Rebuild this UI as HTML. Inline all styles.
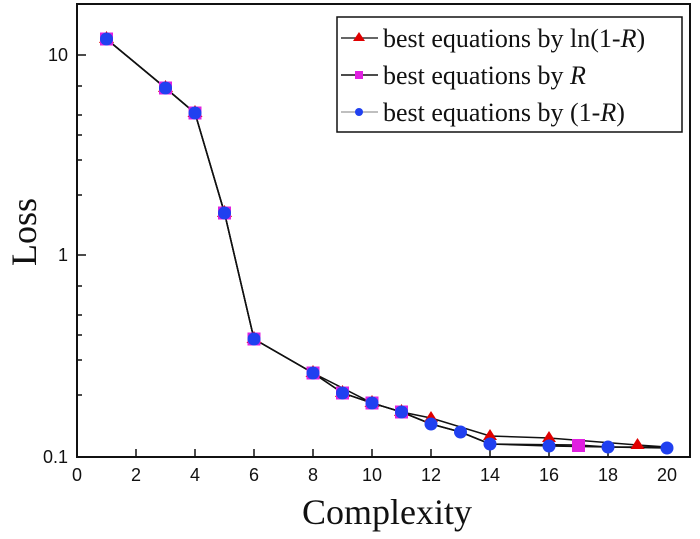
<!DOCTYPE html>
<html><head><style>body{margin:0;background:#fff}svg{display:block}</style></head><body>
<svg width="700" height="539" xmlns="http://www.w3.org/2000/svg">
<defs>
<g id="m"><path d="M0,-8 l7.5,12 h-15z" fill="#e00000"/><rect x="-6.5" y="-6.5" width="13" height="13" fill="#e020e0"/><circle r="6.5" fill="#2040f0"/></g>
</defs>
<rect x="77" y="4" width="613" height="453" fill="none" stroke="#111" stroke-width="2"/>
<g stroke="#111" stroke-width="1.5">
<line x1="136" y1="457" x2="136" y2="449"/><line x1="195" y1="457" x2="195" y2="449"/><line x1="254" y1="457" x2="254" y2="449"/><line x1="313" y1="457" x2="313" y2="449"/><line x1="372" y1="457" x2="372" y2="449"/><line x1="431" y1="457" x2="431" y2="449"/><line x1="490" y1="457" x2="490" y2="449"/><line x1="549" y1="457" x2="549" y2="449"/><line x1="608" y1="457" x2="608" y2="449"/>
<line x1="77" y1="55" x2="86" y2="55"/><line x1="77" y1="255" x2="86" y2="255"/>
<line x1="77" y1="195" x2="82" y2="195"/><line x1="77" y1="160" x2="82" y2="160"/><line x1="77" y1="135" x2="82" y2="135"/><line x1="77" y1="115" x2="82" y2="115"/><line x1="77" y1="86" x2="82" y2="86"/>
<line x1="77" y1="395" x2="82" y2="395"/><line x1="77" y1="360" x2="82" y2="360"/><line x1="77" y1="335" x2="82" y2="335"/><line x1="77" y1="315" x2="82" y2="315"/><line x1="77" y1="286" x2="82" y2="286"/>
</g>
<g font-family="Liberation Sans, sans-serif" font-size="18" fill="#111" text-anchor="middle">
<text x="77" y="481">0</text><text x="136" y="481">2</text><text x="195" y="481">4</text><text x="254" y="481">6</text><text x="313" y="481">8</text><text x="372" y="481">10</text><text x="431" y="481">12</text><text x="490" y="481">14</text><text x="549" y="481">16</text><text x="608" y="481">18</text><text x="667" y="481">20</text>
<text x="68" y="61" text-anchor="end">10</text><text x="68" y="261" text-anchor="end">1</text><text x="68" y="463" text-anchor="end">0.1</text>
</g>
<text x="387" y="524" font-family="Liberation Serif, serif" font-size="36" text-anchor="middle" fill="#111">Complexity</text>
<text transform="translate(36,232) rotate(-90)" font-family="Liberation Serif, serif" font-size="36" text-anchor="middle" fill="#111">Loss</text>
<g fill="none" stroke="#111" stroke-width="1.5">
<polyline points="106.5,39 165.5,88 195,113 224.5,213 254,339 313,373 372,403 401.5,412 431,418 490,436 549,438 637.5,445 667,447"/>
<polyline points="106.5,39 165.5,88 195,113 224.5,213 254,339 313,373 342.5,393 372,403 401.5,412 431,424 460.5,432 490,444 578.5,445 608,447 667,447"/>
<polyline points="106.5,39 165.5,88 195,113 224.5,213 254,339 313,373 342.5,393 372,403 401.5,412 431,424 460.5,432 490,444 549,446 608,447 667,448"/>
</g>
<g fill="#e00000">
<path d="M490,429 l7,11 h-14z"/><path d="M549,431 l7,11 h-14z"/><path d="M637.5,438 l7,11 h-14z"/><path d="M431,411 l7,11 h-14z"/>
</g>
<g fill="#e020e0">
<rect x="572" y="439" width="13" height="13"/>
</g>
<use href="#m" x="106.5" y="39"/><use href="#m" x="165.5" y="88"/><use href="#m" x="195" y="113"/><use href="#m" x="224.5" y="213"/><use href="#m" x="254" y="339"/><use href="#m" x="313" y="373"/><use href="#m" x="342.5" y="393"/><use href="#m" x="372" y="403"/><use href="#m" x="401.5" y="412"/>
<g fill="#2040f0">
<circle cx="431" cy="424" r="6.5"/><circle cx="460.5" cy="432" r="6.5"/><circle cx="490" cy="444" r="6.5"/><circle cx="549" cy="446" r="6.5"/><circle cx="608" cy="447" r="6.5"/><circle cx="667" cy="448" r="6.5"/>
</g>
<rect x="337" y="17" width="345" height="115" fill="#fff" stroke="#111" stroke-width="1.5"/>
<g stroke-width="1.5"><line x1="341" y1="38" x2="378" y2="38" stroke="#333"/><line x1="341" y1="75" x2="378" y2="75" stroke="#111"/><line x1="341" y1="112" x2="378" y2="112" stroke="#aaa"/></g>
<path d="M359,32 l6,9 h-12z" fill="#e00000"/><rect x="355" y="71" width="8" height="8" fill="#e020e0"/><circle cx="359" cy="112" r="4" fill="#2040f0"/>
<g font-family="Liberation Serif, serif" font-size="26" fill="#111">
<text x="383" y="47">best equations by ln(1-<tspan font-style="italic">R</tspan>)</text>
<text x="383" y="84">best equations by <tspan font-style="italic">R</tspan></text>
<text x="383" y="121">best equations by (1-<tspan font-style="italic">R</tspan>)</text>
</g>
</svg>
</body></html>
